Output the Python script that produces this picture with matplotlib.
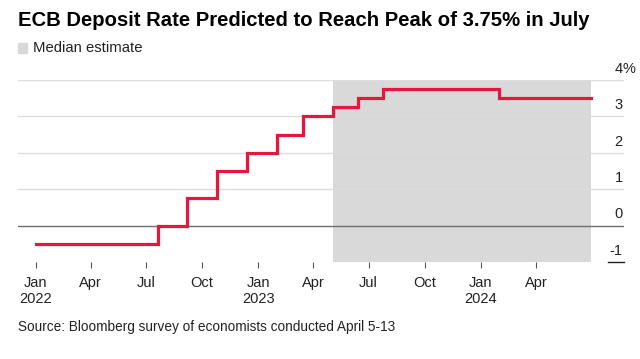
import numpy as np
import pandas as pd
import matplotlib
matplotlib.use("Agg")
import matplotlib.pyplot as plt
import matplotlib.dates as mdates
import matplotlib.patches as mpatches

# ---- data ----
step_dates = ["2022-01-01", "2022-07-20", "2022-09-07", "2022-10-26", "2022-12-14",
              "2023-02-01", "2023-03-15", "2023-05-03", "2023-06-14", "2023-07-25",
              "2024-01-31", "2024-06-30"]
deposit_rate = [-0.5, 0.0, 0.75, 1.5, 2.0, 2.5, 3.0, 3.25, 3.5, 3.75, 3.5, 3.5]

median_start = "2023-05-03"
median_end = "2024-06-30"

tick_dates = ["2022-01-01", "2022-04-01", "2022-07-01", "2022-10-01",
              "2023-01-01", "2023-04-01", "2023-07-01", "2023-10-01",
              "2024-01-01", "2024-04-01"]
tick_labels = ["Jan\n2022", "Apr", "Jul", "Oct", "Jan\n2023", "Apr", "Jul", "Oct",
               "Jan\n2024", "Apr"]
y_ticks = [-1, 0, 1, 2, 3, 4]

x = pd.to_datetime(step_dates)

plt.rcParams['font.family'] = ['Liberation Sans', 'DejaVu Sans']

fig = plt.figure(figsize=(6.4, 3.59), dpi=100)
ax = fig.add_axes([18 / 640, 1 - 262 / 359, (624 - 18) / 640, (262 - 80) / 359])

# shaded forecast region
ax.axvspan(pd.Timestamp(median_start), pd.Timestamp(median_end),
           color='#d9d9d9', lw=0, zorder=1)

# gridlines
for v in y_ticks[2:]:
    ax.axhline(v, color='#dcdcdc', lw=1, zorder=2)
ax.axhline(0, color='#6e6e6e', lw=1, zorder=2)
ax.axhline(-1, xmin=(608 - 18) / (624 - 18), xmax=1, color='#222222', lw=1,
           zorder=2, clip_on=False)

ax.plot(x, deposit_rate, drawstyle='steps-post', color='#e8163f', lw=2.3,
        solid_joinstyle='miter', zorder=3)

ax.set_xlim(pd.Timestamp("2021-12-03"), pd.Timestamp("2024-08-23"))
ax.set_ylim(-1, 4)

ax.set_xticks(pd.to_datetime(tick_dates))
ax.set_xticklabels(tick_labels, fontsize=10.5, color='#222222', linespacing=1.2)
ax.tick_params(axis='x', length=4, width=0.8, color='#555555', pad=6)
ax.set_yticks([])
for s in ax.spines.values():
    s.set_visible(False)

# y labels on the right, above gridlines
ytr = ax.get_yaxis_transform()
for v in y_ticks:
    ax.annotate(str(v), xy=(1.0, v), xycoords=ytr, xytext=(-1, 3),
                textcoords='offset points', ha='right', va='bottom',
                fontsize=10.5, color='#222222')
ax.annotate('%', xy=(1.0, 4), xycoords=ytr, xytext=(-1, 3),
            textcoords='offset points', ha='left', va='bottom',
            fontsize=10.5, color='#222222')

# title, legend, source
fig.text(18 / 640, 1 - 20 / 359, "ECB Deposit Rate Predicted to Reach Peak of 3.75% in July",
         fontsize=14.6, fontweight='bold', va='center', ha='left', color='black')
fig.patches.append(mpatches.Rectangle((18 / 640, 1 - 53 / 359), 9 / 640, 10 / 359,
                                      transform=fig.transFigure, color='#d9d9d9'))
fig.text(33 / 640, 1 - 48 / 359, "Median estimate", fontsize=10.7, va='center',
         ha='left', color='#222222')
fig.text(18 / 640, 1 - 327 / 359, "Source: Bloomberg survey of economists conducted April 5-13",
         fontsize=9.8, va='center', ha='left', color='#222222')

fig.savefig("out.png", dpi=100)
